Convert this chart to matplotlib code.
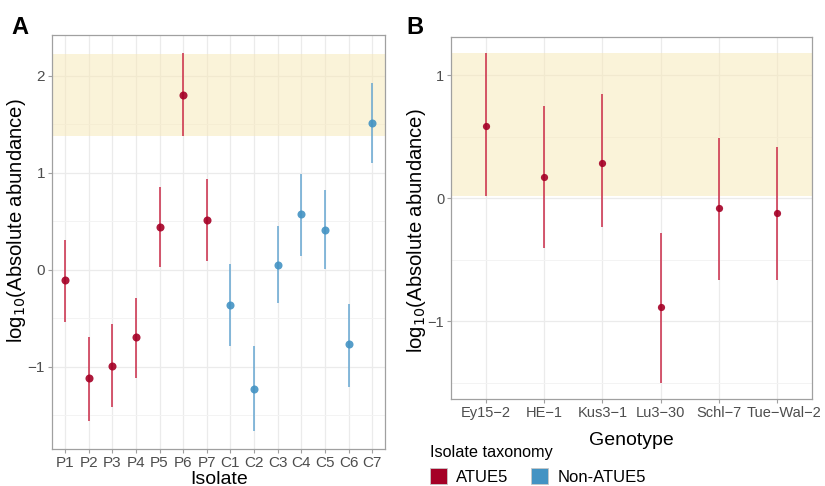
import matplotlib
matplotlib.use('Agg')
import matplotlib.pyplot as plt
from matplotlib.patches import Patch
from matplotlib.ticker import MultipleLocator
from matplotlib.transforms import ScaledTranslation

plt.rcParams['font.family'] = ['Liberation Sans', 'DejaVu Sans']

# panel A: isolates
isolates = ['P1', 'P2', 'P3', 'P4', 'P5', 'P6', 'P7',
            'C1', 'C2', 'C3', 'C4', 'C5', 'C6', 'C7']
iso_group = ['ATUE5'] * 7 + ['Non-ATUE5'] * 7
iso_mean = [-0.11, -1.12, -0.99, -0.69, 0.44, 1.80, 0.51,
            -0.36, -1.23, 0.05, 0.57, 0.41, -0.77, 1.51]
iso_lo = [-0.54, -1.56, -1.42, -1.12, 0.03, 1.38, 0.09,
          -0.79, -1.66, -0.34, 0.14, 0.01, -1.21, 1.10]
iso_hi = [0.31, -0.69, -0.56, -0.29, 0.85, 2.23, 0.93,
          0.06, -0.79, 0.45, 0.99, 0.82, -0.35, 1.92]
band_a = (1.38, 2.22)

# panel B: genotypes
genotypes = ['Ey15\u22122', 'HE\u22121', 'Kus3\u22121', 'Lu3\u221230', 'Schl\u22127', 'Tue\u2212Wal\u22122']
gen_mean = [0.585, 0.17, 0.29, -0.88, -0.08, -0.12]
gen_lo = [0.02, -0.40, -0.23, -1.50, -0.66, -0.66]
gen_hi = [1.18, 0.75, 0.85, -0.28, 0.49, 0.42]
band_b = (0.02, 1.18)

colors = {'ATUE5': '#A50026', 'Non-ATUE5': '#4393C3'}
line_colors = {'ATUE5': '#C8203F', 'Non-ATUE5': '#5FA3D0'}
band_color = '#F7E8B5'
grid_color = '#EBEBEB'
ylab = r'log$_{10}$(Absolute abundance)'


def style_axes(ax, tick_size):
    for s in ax.spines.values():
        s.set_color('#A0A0A0')
        s.set_linewidth(0.9)
    ax.set_axisbelow(True)
    ax.yaxis.set_major_locator(MultipleLocator(1))
    ax.yaxis.set_minor_locator(MultipleLocator(0.5))
    ax.grid(True, which='major', color=grid_color, lw=0.9)
    ax.grid(True, which='minor', axis='y', color='#F3F3F3', lw=0.7)
    ax.tick_params(which='minor', length=0)
    ax.tick_params(which='major', length=3, color='#A0A0A0',
                   labelcolor='#4D4D4D', labelsize=tick_size, pad=2)


fig = plt.figure(figsize=(8.25, 4.86), dpi=100)

# ---- A ----
axA = fig.add_axes([0.063, 0.076, 0.404, 0.852])
style_axes(axA, 11)
axA.axhspan(band_a[0], band_a[1], color=band_color, alpha=0.5, lw=0, zorder=0.6)
xa = list(range(1, len(isolates) + 1))
for x, g, m, lo, hi in zip(xa, iso_group, iso_mean, iso_lo, iso_hi):
    axA.vlines(x, lo, hi, color=line_colors[g], lw=1.4, alpha=0.75, zorder=2)
    axA.plot(x, m, 'o', color=colors[g], ms=5.8, mew=0, alpha=0.9, zorder=3)
axA.set_xticks(xa)
axA.set_xticklabels(isolates)
axA.set_xlim(0.45, len(isolates) + 0.55)
axA.set_ylim(-1.85, 2.42)
axA.set_xlabel('Isolate', fontsize=14)
axA.set_ylabel(ylab, fontsize=14.6)
axA.xaxis.set_label_coords(0.5, -0.052)
axA.yaxis.set_label_coords(-0.072, 0.551)
fig.text(0.014, 0.968, 'A', fontsize=17, fontweight='bold', va='top')

# ---- B ----
axB = fig.add_axes([0.547, 0.179, 0.437, 0.745])
style_axes(axB, 10.5)
axB.axhspan(band_b[0], band_b[1], color=band_color, alpha=0.5, lw=0, zorder=0.6)
xb = list(range(1, len(genotypes) + 1))
for x, m, lo, hi in zip(xb, gen_mean, gen_lo, gen_hi):
    axB.vlines(x, lo, hi, color=line_colors['ATUE5'], lw=1.4, alpha=0.75, zorder=2)
    axB.plot(x, m, 'o', color=colors['ATUE5'], ms=5.2, mew=0, alpha=0.9, zorder=3)
axB.set_xticks(xb)
axB.set_xticklabels(genotypes)
axB.set_xlim(0.4, len(genotypes) + 0.6)
axB.set_ylim(-1.63, 1.31)
axB.set_xlabel('Genotype', fontsize=14)
axB.set_ylabel(ylab, fontsize=14.6)
axB.xaxis.set_label_coords(0.5, -0.09)
axB.yaxis.set_label_coords(-0.064, 0.464)
# last genotype label sits a little right of its tick, as in the original
last = axB.get_xticklabels()[-1]
last.set_transform(last.get_transform() + ScaledTranslation(7 / 100, 0, fig.dpi_scale_trans))
fig.text(0.493, 0.968, 'B', fontsize=17, fontweight='bold', va='top')

handles = [Patch(facecolor=colors[k], edgecolor='#C8C8C8', lw=0.6, label=k) for k in colors]
fig.legend(handles=handles, loc='upper left', bbox_to_anchor=(0.519, 0.088),
           ncol=2, frameon=False, title='Isolate taxonomy', alignment='left',
           fontsize=12, title_fontsize=11.7, handlelength=1.0, handleheight=1.1,
           handletextpad=0.55, columnspacing=1.4, borderaxespad=0, borderpad=0.1)

fig.savefig('out.png', dpi=100)
